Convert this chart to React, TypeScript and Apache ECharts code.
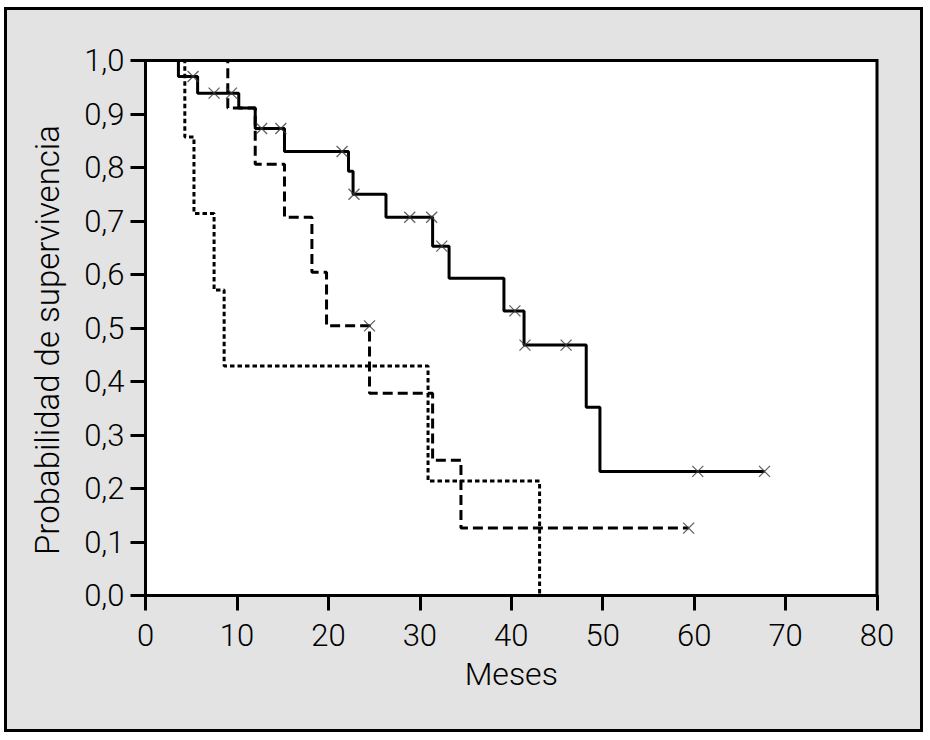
import React, { useEffect, useRef } from "react";
import * as echarts from "echarts";

// Kaplan-Meier step curves (time in months, survival probability)
const solidTimes = [0, 3.6, 5.7, 10.2, 12.0, 15.2, 22.2, 22.7, 26.3, 31.4, 33.2, 39.2, 41.4, 48.2, 49.7, 67.7];
const solidSurv = [1.0, 0.97, 0.939, 0.911, 0.873, 0.83, 0.793, 0.75, 0.707, 0.653, 0.593, 0.532, 0.468, 0.352, 0.232, 0.232];

const dashedTimes = [0, 9.0, 12.0, 15.2, 18.2, 19.8, 24.5, 31.4, 34.5, 59.4];
const dashedSurv = [1.0, 0.911, 0.806, 0.707, 0.604, 0.504, 0.378, 0.253, 0.126, 0.126];

const dottedTimes = [0, 4.3, 5.3, 7.5, 8.6, 30.9, 43.1];
const dottedSurv = [1.0, 0.857, 0.714, 0.571, 0.429, 0.214, 0];

// censored observations (×)
const solidCensorT = [5.2, 7.5, 9.4, 12.7, 14.8, 21.5, 22.8, 28.9, 31.3, 32.4, 40.4, 41.5, 46.0, 60.4, 67.7];
const solidCensorS = [0.97, 0.939, 0.939, 0.873, 0.873, 0.83, 0.75, 0.707, 0.707, 0.653, 0.532, 0.468, 0.468, 0.232, 0.232];
const dashedCensorT = [24.5, 59.4];
const dashedCensorS = [0.504, 0.126];

const xTicks = { min: 0, max: 80, interval: 10 };
const yTicks = { min: 0, max: 1, interval: 0.1 };
const xTitle = "Meses";
const yTitle = "Probabilidad de supervivencia";

const FONT = "Roboto, 'Liberation Sans', Arial, sans-serif";
const WEIGHT = 300;

const zip = (a: number[], b: number[]) => a.map((v, i) => [v, b[i]]);

export default function App() {
  const ref = useRef<HTMLDivElement>(null);
  useEffect(() => {
    if (!ref.current) return;
    const chart = echarts.init(ref.current, null, { renderer: "svg" });
    const cross = "path://M0,0L10,10M10,0L0,10";
    const censorStyle = {
      color: "rgba(0,0,0,0)",
      borderColor: "#3a3a3a",
      borderWidth: 1.3,
    };
    chart.setOption({
      animation: false,
      graphic: [
        {
          type: "rect",
          z: -100,
          silent: true,
          shape: { x: 5.5, y: 8.5, width: 916, height: 722 },
          style: { fill: "#e3e3e3", stroke: "#000", lineWidth: 3 },
        },
      ],
      grid: {
        left: 145.5,
        top: 60.5,
        width: 731.5,
        height: 535,
        show: true,
        backgroundColor: "#fff",
        borderColor: "#000",
        borderWidth: 3,
        z: 1,
      },
      xAxis: {
        type: "value",
        min: xTicks.min,
        max: xTicks.max,
        interval: xTicks.interval,
        name: xTitle,
        nameLocation: "middle",
        nameGap: 62,
        nameTextStyle: { fontFamily: FONT, fontWeight: WEIGHT, fontSize: 32, color: "#000" },
        axisLine: { show: true, lineStyle: { color: "#000", width: 3 } },
        axisTick: { show: true, inside: false, length: 15, lineStyle: { color: "#000", width: 3 } },
        axisLabel: { margin: 24, fontFamily: FONT, fontWeight: WEIGHT, fontSize: 31, color: "#000" },
        splitLine: { show: false },
      },
      yAxis: {
        type: "value",
        min: yTicks.min,
        max: yTicks.max,
        interval: yTicks.interval,
        name: yTitle,
        nameLocation: "middle",
        nameGap: 82,
        nameRotate: 90,
        nameTextStyle: { fontFamily: FONT, fontWeight: WEIGHT, fontSize: 33, color: "#000", padding: [0, 24, 0, 0] },
        axisLine: { show: true, lineStyle: { color: "#000", width: 3 } },
        axisTick: { show: true, inside: false, length: 15, lineStyle: { color: "#000", width: 3 } },
        axisLabel: {
          margin: 21,
          fontFamily: FONT,
          fontWeight: WEIGHT,
          fontSize: 31,
          color: "#000",
          formatter: (v: number) => v.toFixed(1).replace(".", ","),
        },
        splitLine: { show: false },
      },
      series: [
        {
          type: "line",
          step: "end",
          symbol: "none",
          data: zip(dottedTimes, dottedSurv),
          lineStyle: { color: "#000", width: 3, type: [4.5, 3] },
          z: 2,
        },
        {
          type: "line",
          step: "end",
          symbol: "none",
          data: zip(dashedTimes, dashedSurv),
          lineStyle: { color: "#000", width: 3, type: [10, 5] },
          z: 3,
        },
        {
          type: "line",
          step: "end",
          symbol: "none",
          data: zip(solidTimes, solidSurv),
          lineStyle: { color: "#000", width: 3, type: "solid" },
          z: 4,
        },
        {
          type: "scatter",
          symbol: cross,
          symbolSize: 11,
          data: zip(solidCensorT, solidCensorS),
          itemStyle: censorStyle,
          z: 5,
        },
        {
          type: "scatter",
          symbol: cross,
          symbolSize: 11,
          data: zip(dashedCensorT, dashedCensorS),
          itemStyle: censorStyle,
          z: 5,
        },
      ],
    });
    return () => chart.dispose();
  }, []);
  return (
    <div
      ref={ref}
      style={{ position: "absolute", left: 0, top: 0, width: 930, height: 740 }}
    />
  );
}
